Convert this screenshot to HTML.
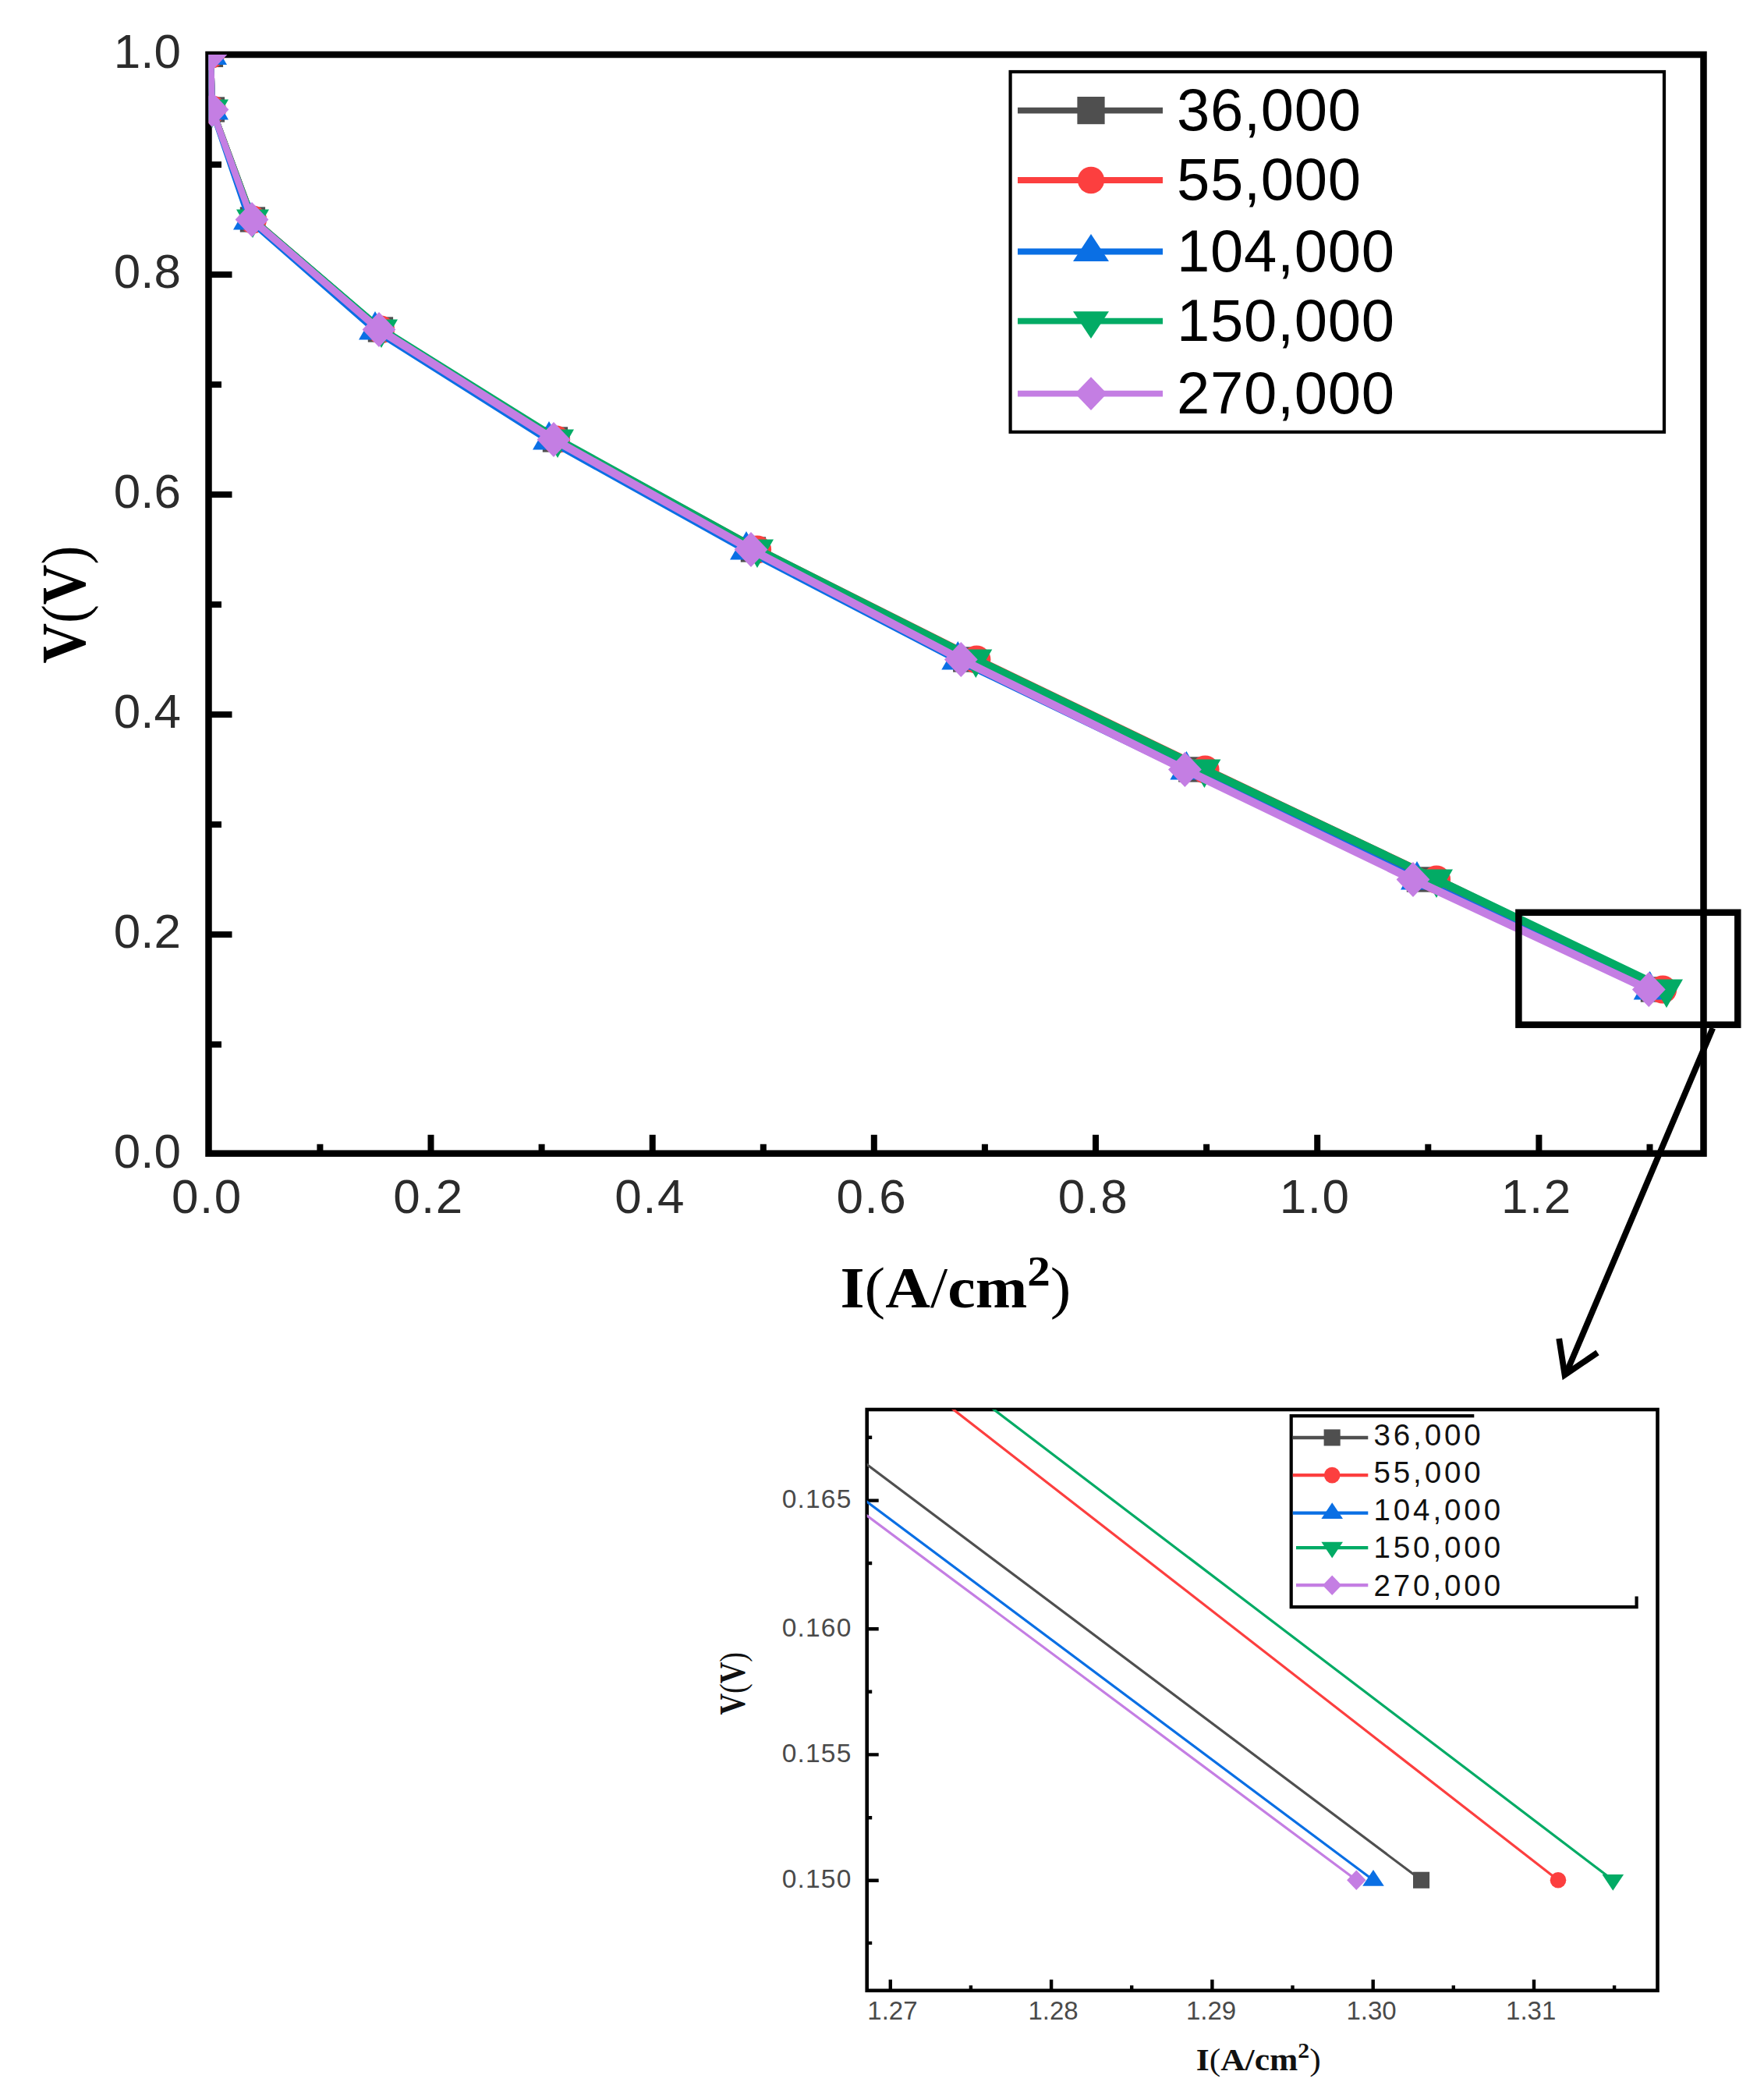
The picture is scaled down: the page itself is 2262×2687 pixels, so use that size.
<!DOCTYPE html>
<html lang="en"><head><meta charset="utf-8"><title>Polarization curves</title>
<style>html,body{margin:0;padding:0;background:#fff}body{width:2262px;height:2687px;overflow:hidden}svg{display:block}</style>
</head><body>
<svg width="2262" height="2687" viewBox="0 0 2262 2687">
<defs>
<clipPath id="cm"><rect x="267.5" y="70.0" width="1917.0" height="1408.7"/></clipPath>
<clipPath id="ci"><rect x="1111.7" y="1807" width="1014" height="745"/></clipPath>
</defs>
<rect width="2262" height="2687" fill="#fff"/>
<rect x="267.5" y="70.0" width="1917.0" height="1408.7" fill="none" stroke="#000" stroke-width="8.5"/>
<path d="M267.5 1339.0h16.5 M267.5 1198.0h30 M267.5 1057.0h16.5 M267.5 916.0h30 M267.5 775.0h16.5 M267.5 634.0h30 M267.5 493.0h16.5 M267.5 352.0h30 M267.5 211.0h16.5 M410.4 1478.7v-12 M552.5 1478.7v-24 M694.6 1478.7v-12 M836.7 1478.7v-24 M978.8 1478.7v-12 M1120.8 1478.7v-24 M1262.9 1478.7v-12 M1405.0 1478.7v-24 M1547.1 1478.7v-12 M1689.2 1478.7v-24 M1831.3 1478.7v-12 M1973.4 1478.7v-24 M2115.5 1478.7v-12" stroke="#000" stroke-width="8" fill="none"/>
<g font-family="'Liberation Sans',Arial,sans-serif" font-size="62" fill="#2b2b2b">
<text x="232" y="1497.0" text-anchor="end">0.0</text>
<text x="232" y="1215.0" text-anchor="end">0.2</text>
<text x="232" y="933.0" text-anchor="end">0.4</text>
<text x="232" y="651.0" text-anchor="end">0.6</text>
<text x="232" y="369.0" text-anchor="end">0.8</text>
<text x="232" y="87.0" text-anchor="end">1.0</text>
<text x="265.3" y="1555" text-anchor="middle" letter-spacing="1.5">0.0</text>
<text x="549.5" y="1555" text-anchor="middle" letter-spacing="1.5">0.2</text>
<text x="833.7" y="1555" text-anchor="middle" letter-spacing="1.5">0.4</text>
<text x="1117.8" y="1555" text-anchor="middle" letter-spacing="1.5">0.6</text>
<text x="1402.0" y="1555" text-anchor="middle" letter-spacing="1.5">0.8</text>
<text x="1686.2" y="1555" text-anchor="middle" letter-spacing="1.5">1.0</text>
<text x="1970.4" y="1555" text-anchor="middle" letter-spacing="1.5">1.2</text>
</g>
<g font-family="'Liberation Serif','Times New Roman',serif" font-weight="bold" fill="#000">
<text transform="translate(108.8,850.6) rotate(-90)" font-size="80" textLength="150.8" lengthAdjust="spacingAndGlyphs">V<tspan font-weight="normal">(</tspan>V<tspan font-weight="normal">)</tspan></text>
<text x="1077.5" y="1675.6" font-size="73" textLength="296" lengthAdjust="spacingAndGlyphs">I<tspan font-weight="normal">(</tspan>A<tspan font-weight="normal">/</tspan>cm<tspan font-size="54" dy="-28">2</tspan><tspan dy="28" font-weight="normal">)</tspan></text>
</g>
<g clip-path="url(#cm)">
<path d="M270.0 70.0L272.0 140.5" stroke="#4f4f4f" stroke-width="8.4" stroke-linecap="round" fill="none"/>
<path d="M272.0 140.5L324.0 281.5" stroke="#4f4f4f" stroke-width="8.4" stroke-linecap="round" fill="none"/>
<path d="M324.0 281.5L488.0 422.5" stroke="#4f4f4f" stroke-width="9.4" stroke-linecap="round" fill="none"/>
<path d="M488.0 422.5L712.0 563.5" stroke="#4f4f4f" stroke-width="10.4" stroke-linecap="round" fill="none"/>
<path d="M712.0 563.5L966.0 704.5" stroke="#4f4f4f" stroke-width="10.4" stroke-linecap="round" fill="none"/>
<path d="M966.0 704.5L1238.3 845.5" stroke="#4f4f4f" stroke-width="10.4" stroke-linecap="round" fill="none"/>
<path d="M1238.3 845.5L1527.4 986.5" stroke="#4f4f4f" stroke-width="10.4" stroke-linecap="round" fill="none"/>
<path d="M1527.4 986.5L1820.0 1127.5" stroke="#4f4f4f" stroke-width="10.4" stroke-linecap="round" fill="none"/>
<path d="M1820.0 1127.5L2120.0 1268.5" stroke="#4f4f4f" stroke-width="10.4" stroke-linecap="round" fill="none"/>
<rect x="253.8" y="53.8" width="32.3" height="32.3" fill="#4f4f4f"/>
<rect x="255.8" y="124.3" width="32.3" height="32.3" fill="#4f4f4f"/>
<rect x="307.8" y="265.3" width="32.3" height="32.3" fill="#4f4f4f"/>
<rect x="471.8" y="406.3" width="32.3" height="32.3" fill="#4f4f4f"/>
<rect x="695.8" y="547.3" width="32.3" height="32.3" fill="#4f4f4f"/>
<rect x="949.8" y="688.3" width="32.3" height="32.3" fill="#4f4f4f"/>
<rect x="1222.1" y="829.3" width="32.3" height="32.3" fill="#4f4f4f"/>
<rect x="1511.2" y="970.3" width="32.3" height="32.3" fill="#4f4f4f"/>
<rect x="1803.8" y="1111.3" width="32.3" height="32.3" fill="#4f4f4f"/>
<rect x="2103.8" y="1252.3" width="32.3" height="32.3" fill="#4f4f4f"/>
<path d="M270.0 70.0L272.0 140.5" stroke="#fc3f3f" stroke-width="8.4" stroke-linecap="round" fill="none"/>
<path d="M272.0 140.5L324.0 281.5" stroke="#fc3f3f" stroke-width="8.4" stroke-linecap="round" fill="none"/>
<path d="M324.0 281.5L488.0 422.5" stroke="#fc3f3f" stroke-width="9.4" stroke-linecap="round" fill="none"/>
<path d="M488.0 422.5L713.0 563.5" stroke="#fc3f3f" stroke-width="10.4" stroke-linecap="round" fill="none"/>
<path d="M713.0 563.5L971.0 704.5" stroke="#fc3f3f" stroke-width="10.4" stroke-linecap="round" fill="none"/>
<path d="M971.0 704.5L1252.3 845.5" stroke="#fc3f3f" stroke-width="10.4" stroke-linecap="round" fill="none"/>
<path d="M1252.3 845.5L1545.4 986.5" stroke="#fc3f3f" stroke-width="10.4" stroke-linecap="round" fill="none"/>
<path d="M1545.4 986.5L1842.0 1127.5" stroke="#fc3f3f" stroke-width="10.4" stroke-linecap="round" fill="none"/>
<path d="M1842.0 1127.5L2132.1 1268.5" stroke="#fc3f3f" stroke-width="10.4" stroke-linecap="round" fill="none"/>
<circle cx="270.0" cy="70.0" r="18.1" fill="#fc3f3f"/>
<circle cx="272.0" cy="140.5" r="18.1" fill="#fc3f3f"/>
<circle cx="324.0" cy="281.5" r="18.1" fill="#fc3f3f"/>
<circle cx="488.0" cy="422.5" r="18.1" fill="#fc3f3f"/>
<circle cx="713.0" cy="563.5" r="18.1" fill="#fc3f3f"/>
<circle cx="971.0" cy="704.5" r="18.1" fill="#fc3f3f"/>
<circle cx="1252.3" cy="845.5" r="18.1" fill="#fc3f3f"/>
<circle cx="1545.4" cy="986.5" r="18.1" fill="#fc3f3f"/>
<circle cx="1842.0" cy="1127.5" r="18.1" fill="#fc3f3f"/>
<circle cx="2132.1" cy="1268.5" r="18.1" fill="#fc3f3f"/>
<path d="M270.0 70.0L272.0 140.5" stroke="#0a6fe4" stroke-width="8.4" stroke-linecap="round" fill="none"/>
<path d="M272.0 140.5L320.0 281.5" stroke="#0a6fe4" stroke-width="8.4" stroke-linecap="round" fill="none"/>
<path d="M320.0 281.5L481.0 422.5" stroke="#0a6fe4" stroke-width="9.4" stroke-linecap="round" fill="none"/>
<path d="M481.0 422.5L704.0 563.5" stroke="#0a6fe4" stroke-width="10.4" stroke-linecap="round" fill="none"/>
<path d="M704.0 563.5L957.0 704.5" stroke="#0a6fe4" stroke-width="10.4" stroke-linecap="round" fill="none"/>
<path d="M957.0 704.5L1228.3 845.5" stroke="#0a6fe4" stroke-width="10.4" stroke-linecap="round" fill="none"/>
<path d="M1228.3 845.5L1521.4 986.5" stroke="#0a6fe4" stroke-width="10.4" stroke-linecap="round" fill="none"/>
<path d="M1521.4 986.5L1817.0 1127.5" stroke="#0a6fe4" stroke-width="10.4" stroke-linecap="round" fill="none"/>
<path d="M1817.0 1127.5L2115.7 1268.5" stroke="#0a6fe4" stroke-width="10.4" stroke-linecap="round" fill="none"/>
<polygon points="270.0,46.5 291.0,83.0 249.0,83.0" fill="#0a6fe4"/>
<polygon points="272.0,117.0 293.0,153.5 251.0,153.5" fill="#0a6fe4"/>
<polygon points="320.0,258.0 341.0,294.5 299.0,294.5" fill="#0a6fe4"/>
<polygon points="481.0,399.0 502.0,435.5 460.0,435.5" fill="#0a6fe4"/>
<polygon points="704.0,540.0 725.0,576.5 683.0,576.5" fill="#0a6fe4"/>
<polygon points="957.0,681.0 978.0,717.5 936.0,717.5" fill="#0a6fe4"/>
<polygon points="1228.3,822.0 1249.3,858.5 1207.3,858.5" fill="#0a6fe4"/>
<polygon points="1521.4,963.0 1542.4,999.5 1500.4,999.5" fill="#0a6fe4"/>
<polygon points="1817.0,1104.0 1838.0,1140.5 1796.0,1140.5" fill="#0a6fe4"/>
<polygon points="2115.7,1245.0 2136.7,1281.5 2094.7,1281.5" fill="#0a6fe4"/>
<path d="M270.0 70.0L272.0 140.5" stroke="#02ab65" stroke-width="8.4" stroke-linecap="round" fill="none"/>
<path d="M272.0 140.5L324.0 281.5" stroke="#02ab65" stroke-width="8.4" stroke-linecap="round" fill="none"/>
<path d="M324.0 281.5L489.0 422.5" stroke="#02ab65" stroke-width="9.4" stroke-linecap="round" fill="none"/>
<path d="M489.0 422.5L715.0 563.5" stroke="#02ab65" stroke-width="10.4" stroke-linecap="round" fill="none"/>
<path d="M715.0 563.5L971.0 704.5" stroke="#02ab65" stroke-width="10.4" stroke-linecap="round" fill="none"/>
<path d="M971.0 704.5L1251.3 845.5" stroke="#02ab65" stroke-width="10.4" stroke-linecap="round" fill="none"/>
<path d="M1251.3 845.5L1544.4 986.5" stroke="#02ab65" stroke-width="10.4" stroke-linecap="round" fill="none"/>
<path d="M1544.4 986.5L1842.0 1127.5" stroke="#02ab65" stroke-width="10.4" stroke-linecap="round" fill="none"/>
<path d="M1842.0 1127.5L2137.0 1268.5" stroke="#02ab65" stroke-width="10.4" stroke-linecap="round" fill="none"/>
<polygon points="270.0,93.5 291.0,57.0 249.0,57.0" fill="#02ab65"/>
<polygon points="272.0,164.0 293.0,127.5 251.0,127.5" fill="#02ab65"/>
<polygon points="324.0,305.0 345.0,268.5 303.0,268.5" fill="#02ab65"/>
<polygon points="489.0,446.0 510.0,409.5 468.0,409.5" fill="#02ab65"/>
<polygon points="715.0,587.0 736.0,550.5 694.0,550.5" fill="#02ab65"/>
<polygon points="971.0,728.0 992.0,691.5 950.0,691.5" fill="#02ab65"/>
<polygon points="1251.3,869.0 1272.3,832.5 1230.3,832.5" fill="#02ab65"/>
<polygon points="1544.4,1010.0 1565.4,973.5 1523.4,973.5" fill="#02ab65"/>
<polygon points="1842.0,1151.0 1863.0,1114.5 1821.0,1114.5" fill="#02ab65"/>
<polygon points="2137.0,1292.0 2158.0,1255.5 2116.0,1255.5" fill="#02ab65"/>
<path d="M270.0 70.0L272.0 140.5" stroke="#c47ee3" stroke-width="8.4" stroke-linecap="round" fill="none"/>
<path d="M272.0 140.5L323.0 281.5" stroke="#c47ee3" stroke-width="8.4" stroke-linecap="round" fill="none"/>
<path d="M323.0 281.5L486.0 422.5" stroke="#c47ee3" stroke-width="9.4" stroke-linecap="round" fill="none"/>
<path d="M486.0 422.5L710.0 563.5" stroke="#c47ee3" stroke-width="10.4" stroke-linecap="round" fill="none"/>
<path d="M710.0 563.5L963.0 704.5" stroke="#c47ee3" stroke-width="10.4" stroke-linecap="round" fill="none"/>
<path d="M963.0 704.5L1232.3 845.5" stroke="#c47ee3" stroke-width="10.4" stroke-linecap="round" fill="none"/>
<path d="M1232.3 845.5L1519.4 986.5" stroke="#c47ee3" stroke-width="10.4" stroke-linecap="round" fill="none"/>
<path d="M1519.4 986.5L1812.0 1127.5" stroke="#c47ee3" stroke-width="10.4" stroke-linecap="round" fill="none"/>
<path d="M1812.0 1127.5L2114.3 1268.5" stroke="#c47ee3" stroke-width="10.4" stroke-linecap="round" fill="none"/>
<polygon points="270.0,47.5 291.4,70.0 270.0,92.5 248.6,70.0" fill="#c47ee3"/>
<polygon points="272.0,118.0 293.4,140.5 272.0,163.0 250.6,140.5" fill="#c47ee3"/>
<polygon points="323.0,259.0 344.4,281.5 323.0,304.0 301.6,281.5" fill="#c47ee3"/>
<polygon points="486.0,400.0 507.4,422.5 486.0,445.0 464.6,422.5" fill="#c47ee3"/>
<polygon points="710.0,541.0 731.4,563.5 710.0,586.0 688.6,563.5" fill="#c47ee3"/>
<polygon points="963.0,682.0 984.4,704.5 963.0,727.0 941.6,704.5" fill="#c47ee3"/>
<polygon points="1232.3,823.0 1253.7,845.5 1232.3,868.0 1210.9,845.5" fill="#c47ee3"/>
<polygon points="1519.4,964.0 1540.8,986.5 1519.4,1009.0 1498.0,986.5" fill="#c47ee3"/>
<polygon points="1812.0,1105.0 1833.4,1127.5 1812.0,1150.0 1790.6,1127.5" fill="#c47ee3"/>
<polygon points="2114.3,1246.0 2135.7,1268.5 2114.3,1291.0 2092.9,1268.5" fill="#c47ee3"/>
</g>
<rect x="1295.6" y="92" width="838.4" height="461.8" fill="#fff" stroke="#000" stroke-width="4.2"/>
<g font-family="'Liberation Sans',Arial,sans-serif" font-size="76" letter-spacing="0.7" fill="#000">
<path d="M1305 141.6H1491" stroke="#4f4f4f" stroke-width="7.8"/>
<rect x="1381.4" y="124.0" width="35.2" height="35.2" fill="#4f4f4f"/>
<text x="1509" y="166.9">36,000</text>
<path d="M1305 231H1491" stroke="#fc3f3f" stroke-width="7.8"/>
<circle cx="1399.0" cy="231.0" r="17.2" fill="#fc3f3f"/>
<text x="1509" y="256.3">55,000</text>
<path d="M1305 322.5H1491" stroke="#0a6fe4" stroke-width="7.8"/>
<polygon points="1399.0,300.1 1422.0,334.9 1376.0,334.9" fill="#0a6fe4"/>
<text x="1509" y="347.8">104,000</text>
<path d="M1305 411.6H1491" stroke="#02ab65" stroke-width="7.8"/>
<polygon points="1399.0,434.0 1422.0,399.2 1376.0,399.2" fill="#02ab65"/>
<text x="1509" y="436.9">150,000</text>
<path d="M1305 504.6H1491" stroke="#c47ee3" stroke-width="7.8"/>
<polygon points="1399.0,483.2 1419.4,504.6 1399.0,526.0 1378.6,504.6" fill="#c47ee3"/>
<text x="1509" y="529.9">270,000</text>
</g>
<rect x="1947.4" y="1169.8" width="280.9" height="143.9" fill="none" stroke="#000" stroke-width="8.5"/>
<path d="M2196.3 1318 L2008.5 1760" stroke="#000" stroke-width="7.8" fill="none"/>
<path d="M1999.2 1716 L2006.5 1762.5 L2048.5 1734" stroke="#000" stroke-width="7.8" fill="none" stroke-linejoin="miter" stroke-miterlimit="10"/>
<rect x="1111.7" y="1807.0" width="1013.8" height="744.8000000000002" fill="none" stroke="#000" stroke-width="4.6"/>
<path d="M1111.7 1842.8h6.5 M1111.7 1923.6h15 M1111.7 2004.0h6.5 M1111.7 2088.3h15 M1111.7 2168.7h6.5 M1111.7 2249.4h15 M1111.7 2330.2h6.5 M1111.7 2410.7h15 M1111.7 2490.9h6.5 M1141.8 2551.8v-14 M1244.9 2551.8v-6.5 M1348.1 2551.8v-14 M1451.2 2551.8v-6.5 M1554.4 2551.8v-14 M1657.5 2551.8v-6.5 M1760.7 2551.8v-14 M1863.8 2551.8v-6.5 M1967.0 2551.8v-14 M2070.1 2551.8v-6.5" stroke="#000" stroke-width="4.4" fill="none"/>
<g font-family="'Liberation Sans',Arial,sans-serif" font-size="33.5" letter-spacing="1.2" fill="#4a4a4a">
<text x="1092.5" y="2420.1" text-anchor="end">0.150</text>
<text x="1092.5" y="2258.8" text-anchor="end">0.155</text>
<text x="1092.5" y="2097.7" text-anchor="end">0.160</text>
<text x="1092.5" y="1933.0" text-anchor="end">0.165</text>
<text x="1144.4" y="2589.3" text-anchor="middle" font-size="33" letter-spacing="0">1.27</text>
<text x="1350.5" y="2589.3" text-anchor="middle" font-size="33" letter-spacing="0">1.28</text>
<text x="1553" y="2589.3" text-anchor="middle" font-size="33" letter-spacing="0">1.29</text>
<text x="1758.6" y="2589.3" text-anchor="middle" font-size="33" letter-spacing="0">1.30</text>
<text x="1963.2" y="2589.3" text-anchor="middle" font-size="33" letter-spacing="0">1.31</text>
</g>
<g font-family="'Liberation Serif','Times New Roman',serif" font-weight="bold" fill="#111">
<text transform="translate(955.4,2198.6) rotate(-90)" font-size="46" textLength="80.6" lengthAdjust="spacingAndGlyphs">V<tspan font-weight="normal">(</tspan>V<tspan font-weight="normal">)</tspan></text>
<text x="1533.7" y="2654" font-size="41" textLength="160" lengthAdjust="spacingAndGlyphs">I<tspan font-weight="normal">(</tspan>A/cm<tspan font-size="28" dy="-16">2</tspan><tspan dy="16" font-weight="normal">)</tspan></text>
</g>
<g clip-path="url(#ci)">
<path d="M922.6 1735.8L1822.6 2410.3" stroke="#4f4f4f" stroke-width="3.2" fill="none"/>
<path d="M1098.0 1710.1L1998.0 2410.3" stroke="#fc3f3f" stroke-width="3.2" fill="none"/>
<path d="M861.0 1738.0L1761.0 2410.3" stroke="#0a6fe4" stroke-width="3.2" fill="none"/>
<path d="M1168.3 1726.3L2068.3 2410.3" stroke="#02ab65" stroke-width="3.2" fill="none"/>
<path d="M839.3 1740.2L1739.3 2410.3" stroke="#c47ee3" stroke-width="3.2" fill="none"/>
<rect x="1812.0" y="2399.7" width="21.1" height="21.1" fill="#4f4f4f"/>
<circle cx="1998.0" cy="2410.3" r="10.3" fill="#fc3f3f"/>
<polygon points="2068.3,2423.7 2082.1,2402.9 2054.5,2402.9" fill="#02ab65"/>
<polygon points="1761.0,2396.9 1774.8,2417.7 1747.2,2417.7" fill="#0a6fe4"/>
<polygon points="1739.3,2397.5 1751.5,2410.3 1739.3,2423.1 1727.1,2410.3" fill="#c47ee3"/>
</g>
<rect x="1657" y="1817" width="441" height="241" fill="#fff"/>
<path d="M1890.3 1815.1H1655.7V2060.1H2098.6V2046.6" stroke="#000" stroke-width="4.2" fill="none"/>
<g font-family="'Liberation Sans',Arial,sans-serif" font-size="38.5" letter-spacing="3.9" fill="#111">
<path d="M1657.8 1843H1754.3" stroke="#4f4f4f" stroke-width="4.3"/>
<rect x="1697.6" y="1832.4" width="21.1" height="21.1" fill="#4f4f4f"/>
<text x="1761.5" y="1852.6">36,000</text>
<path d="M1657.8 1891.1H1754.3" stroke="#fc3f3f" stroke-width="4.3"/>
<circle cx="1708.2" cy="1891.1" r="10.3" fill="#fc3f3f"/>
<text x="1761.5" y="1900.7">55,000</text>
<path d="M1657.8 1939.7H1754.3" stroke="#0a6fe4" stroke-width="4.3"/>
<polygon points="1708.2,1926.3 1722.0,1947.1 1694.4,1947.1" fill="#0a6fe4"/>
<text x="1761.5" y="1949.1">104,000</text>
<path d="M1662 1984.1H1754.3" stroke="#02ab65" stroke-width="4.3"/>
<polygon points="1708.2,1997.5 1722.0,1976.7 1694.4,1976.7" fill="#02ab65"/>
<text x="1761.5" y="1997.4">150,000</text>
<path d="M1662 2032.2H1754.3" stroke="#c47ee3" stroke-width="4.3"/>
<polygon points="1708.2,2019.4 1720.4,2032.2 1708.2,2045.0 1696.0,2032.2" fill="#c47ee3"/>
<text x="1761.5" y="2045.8">270,000</text>
</g>
</svg>
</body></html>
